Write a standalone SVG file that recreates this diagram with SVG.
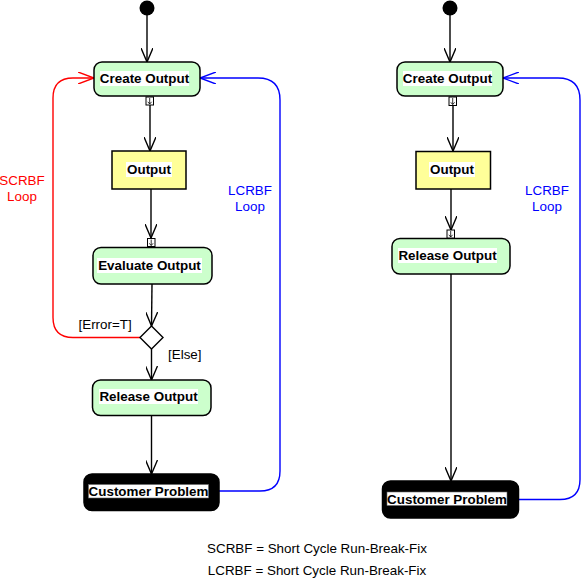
<svg xmlns="http://www.w3.org/2000/svg" width="582" height="580" viewBox="0 0 582 580">
<style>
.act{fill:#ccffcc;stroke:#000;stroke-width:1.5}
.obj{fill:#ffff99;stroke:#000;stroke-width:1.5}
.cp{fill:#000;stroke:#000;stroke-width:1.5}
.lbl{font-family:"Liberation Sans",Arial,sans-serif;font-size:13.4px;font-weight:bold;fill:#000;text-anchor:middle}
.hl{fill:#fff}
.pin{fill:#fff;stroke:#000;stroke-width:1}
.txt{font-family:"Liberation Sans",Arial,sans-serif;font-size:13.4px;fill:#000}
.red{fill:#ff0000}
.blue{fill:#0000ff}
.c{fill:none;stroke:#000;stroke-width:1.4}
.cr{fill:none;stroke:#ff0000;stroke-width:1.4}
.cb{fill:none;stroke:#0000ff;stroke-width:1.4}
</style>
<defs>
<marker id="a" viewBox="0 0 14 12" refX="14" refY="6" markerWidth="14" markerHeight="12" markerUnits="userSpaceOnUse" orient="auto"><path d="M0,0 L14,6 L0,12" fill="none" stroke="#000" stroke-width="1.4"/></marker>
<marker id="ar" viewBox="0 0 16 12" refX="16" refY="6" markerWidth="16" markerHeight="12" markerUnits="userSpaceOnUse" orient="auto"><path d="M0,0 L16,6 L0,12" fill="none" stroke="#ff0000" stroke-width="1.4"/></marker>
<marker id="ab" viewBox="0 0 16 12" refX="16" refY="6" markerWidth="16" markerHeight="12" markerUnits="userSpaceOnUse" orient="auto"><path d="M0,0 L16,6 L0,12" fill="none" stroke="#0000ff" stroke-width="1.4"/></marker>
</defs>

<g id="connectors">
<path class="c" d="M147,15 L147,62" marker-end="url(#a)"/>
<path class="c" d="M150,105 L150,151" marker-end="url(#a)"/>
<path class="c" d="M151,189 L151,238" marker-end="url(#a)"/>
<path class="c" d="M152,284 L151.5,326" marker-end="url(#a)"/>
<path class="c" d="M151.5,349 L151.5,380" marker-end="url(#a)"/>
<path class="c" d="M151.5,415 L151.5,474" marker-end="url(#a)"/>
<path class="cr" d="M140,337.5 L73,337.5 Q53,337.5 53,317.5 L53,98 Q53,78 73,78 L94,78" marker-end="url(#ar)"/>
<path class="cb" d="M219,491 L260,491 Q280,491 280,471 L280,100 Q280,78 258,78 L200,78" marker-end="url(#ab)"/>

<path class="c" d="M450,15 L450,62" marker-end="url(#a)"/>
<path class="c" d="M453,106 L453,151" marker-end="url(#a)"/>
<path class="c" d="M451,189 L451,230" marker-end="url(#a)"/>
<path class="c" d="M451,274 L451,481" marker-end="url(#a)"/>
<path class="cb" d="M518,499.5 L560,499.5 Q580,499.5 580,479.5 L580,100 Q580,78 558,78 L503,78" marker-end="url(#ab)"/>
</g>

<g id="start1"><circle cx="147" cy="8" r="7.5" fill="#000"/></g>
<g id="create1">
<rect class="act" x="94" y="62" width="106" height="34" rx="8"/>
<rect class="hl" x="100" y="71" width="89" height="15"/>
<text class="lbl" x="144.5" y="83">Create Output</text>
<rect class="pin" x="146" y="97" width="7.5" height="8"/>
<path d="M149.7,98 L149.7,104 M147.8,101.8 L149.7,104 L151.6,101.8" fill="none" stroke="#000" stroke-width="0.8"/>
</g>
<g id="output1">
<rect class="obj" x="112" y="151" width="74" height="38"/>
<rect class="hl" x="126" y="162" width="46" height="15"/>
<text class="lbl" x="149" y="174">Output</text>
</g>
<g id="evaluate1">
<rect class="act" x="93" y="247.5" width="119" height="36.5" rx="8"/>
<rect class="hl" x="97" y="258" width="105" height="15"/>
<text class="lbl" x="149.5" y="270">Evaluate Output</text>
<rect class="pin" x="147.5" y="238.5" width="7.5" height="8"/>
<path d="M151.2,239.5 L151.2,245.5 M149.3,243.3 L151.2,245.5 L153.1,243.3" fill="none" stroke="#000" stroke-width="0.8"/>
</g>
<g id="decision1">
<path d="M151.5,326 L163,337.5 L151.5,349 L140,337.5 Z" fill="#fff" stroke="#000" stroke-width="1.4"/>
</g>
<g id="release1">
<rect class="act" x="92.5" y="380" width="118.5" height="35.5" rx="8"/>
<rect class="hl" x="99" y="389" width="99" height="15"/>
<text class="lbl" x="148.5" y="401">Release Output</text>
</g>
<g id="customer1">
<rect class="cp" x="84" y="474" width="135" height="36.5" rx="8"/>
<rect fill="#fff" stroke="#666" stroke-width="0.6" x="88.5" y="484.5" width="120" height="13.5"/>
<text class="lbl" x="148.5" y="496">Customer Problem</text>
</g>

<g id="start2"><circle cx="450" cy="8" r="7.5" fill="#000"/></g>
<g id="create2">
<rect class="act" x="397" y="62" width="106" height="34" rx="8"/>
<rect class="hl" x="403" y="71" width="89" height="15"/>
<text class="lbl" x="447.5" y="83">Create Output</text>
<rect class="pin" x="449" y="97" width="7.5" height="8.5"/>
<path d="M452.7,98 L452.7,104.5 M450.8,102.3 L452.7,104.5 L454.6,102.3" fill="none" stroke="#000" stroke-width="0.8"/>
</g>
<g id="output2">
<rect class="obj" x="416" y="151.5" width="74.5" height="37.5"/>
<rect class="hl" x="429" y="162" width="46" height="15"/>
<text class="lbl" x="452" y="174">Output</text>
</g>
<g id="release2">
<rect class="act" x="392" y="238.5" width="118" height="35.5" rx="8"/>
<rect class="hl" x="398" y="248" width="99" height="15"/>
<text class="lbl" x="447.5" y="260">Release Output</text>
<rect class="pin" x="447" y="230" width="7.5" height="8"/>
<path d="M450.7,231 L450.7,237 M448.8,234.8 L450.7,237 L452.6,234.8" fill="none" stroke="#000" stroke-width="0.8"/>
</g>
<g id="customer2">
<rect class="cp" x="382.5" y="481" width="136" height="37" rx="8"/>
<rect fill="#fff" stroke="#666" stroke-width="0.6" x="387" y="492" width="120" height="13.5"/>
<text class="lbl" x="447" y="503.5">Customer Problem</text>
</g>

<g id="labels">
<text class="txt red" x="22" y="185" text-anchor="middle">SCRBF</text>
<text class="txt red" x="22" y="201" text-anchor="middle">Loop</text>
<text class="txt blue" x="250" y="195" text-anchor="middle">LCRBF</text>
<text class="txt blue" x="250" y="211" text-anchor="middle">Loop</text>
<text class="txt blue" x="547" y="195" text-anchor="middle">LCRBF</text>
<text class="txt blue" x="547" y="211" text-anchor="middle">Loop</text>
<text class="txt" x="78.5" y="329">[Error=T]</text>
<text class="txt" x="168" y="359">[Else]</text>
<text class="txt" x="317" y="553" text-anchor="middle">SCRBF = Short Cycle Run-Break-Fix</text>
<text class="txt" x="317" y="575" text-anchor="middle">LCRBF = Short Cycle Run-Break-Fix</text>
</g>
</svg>
